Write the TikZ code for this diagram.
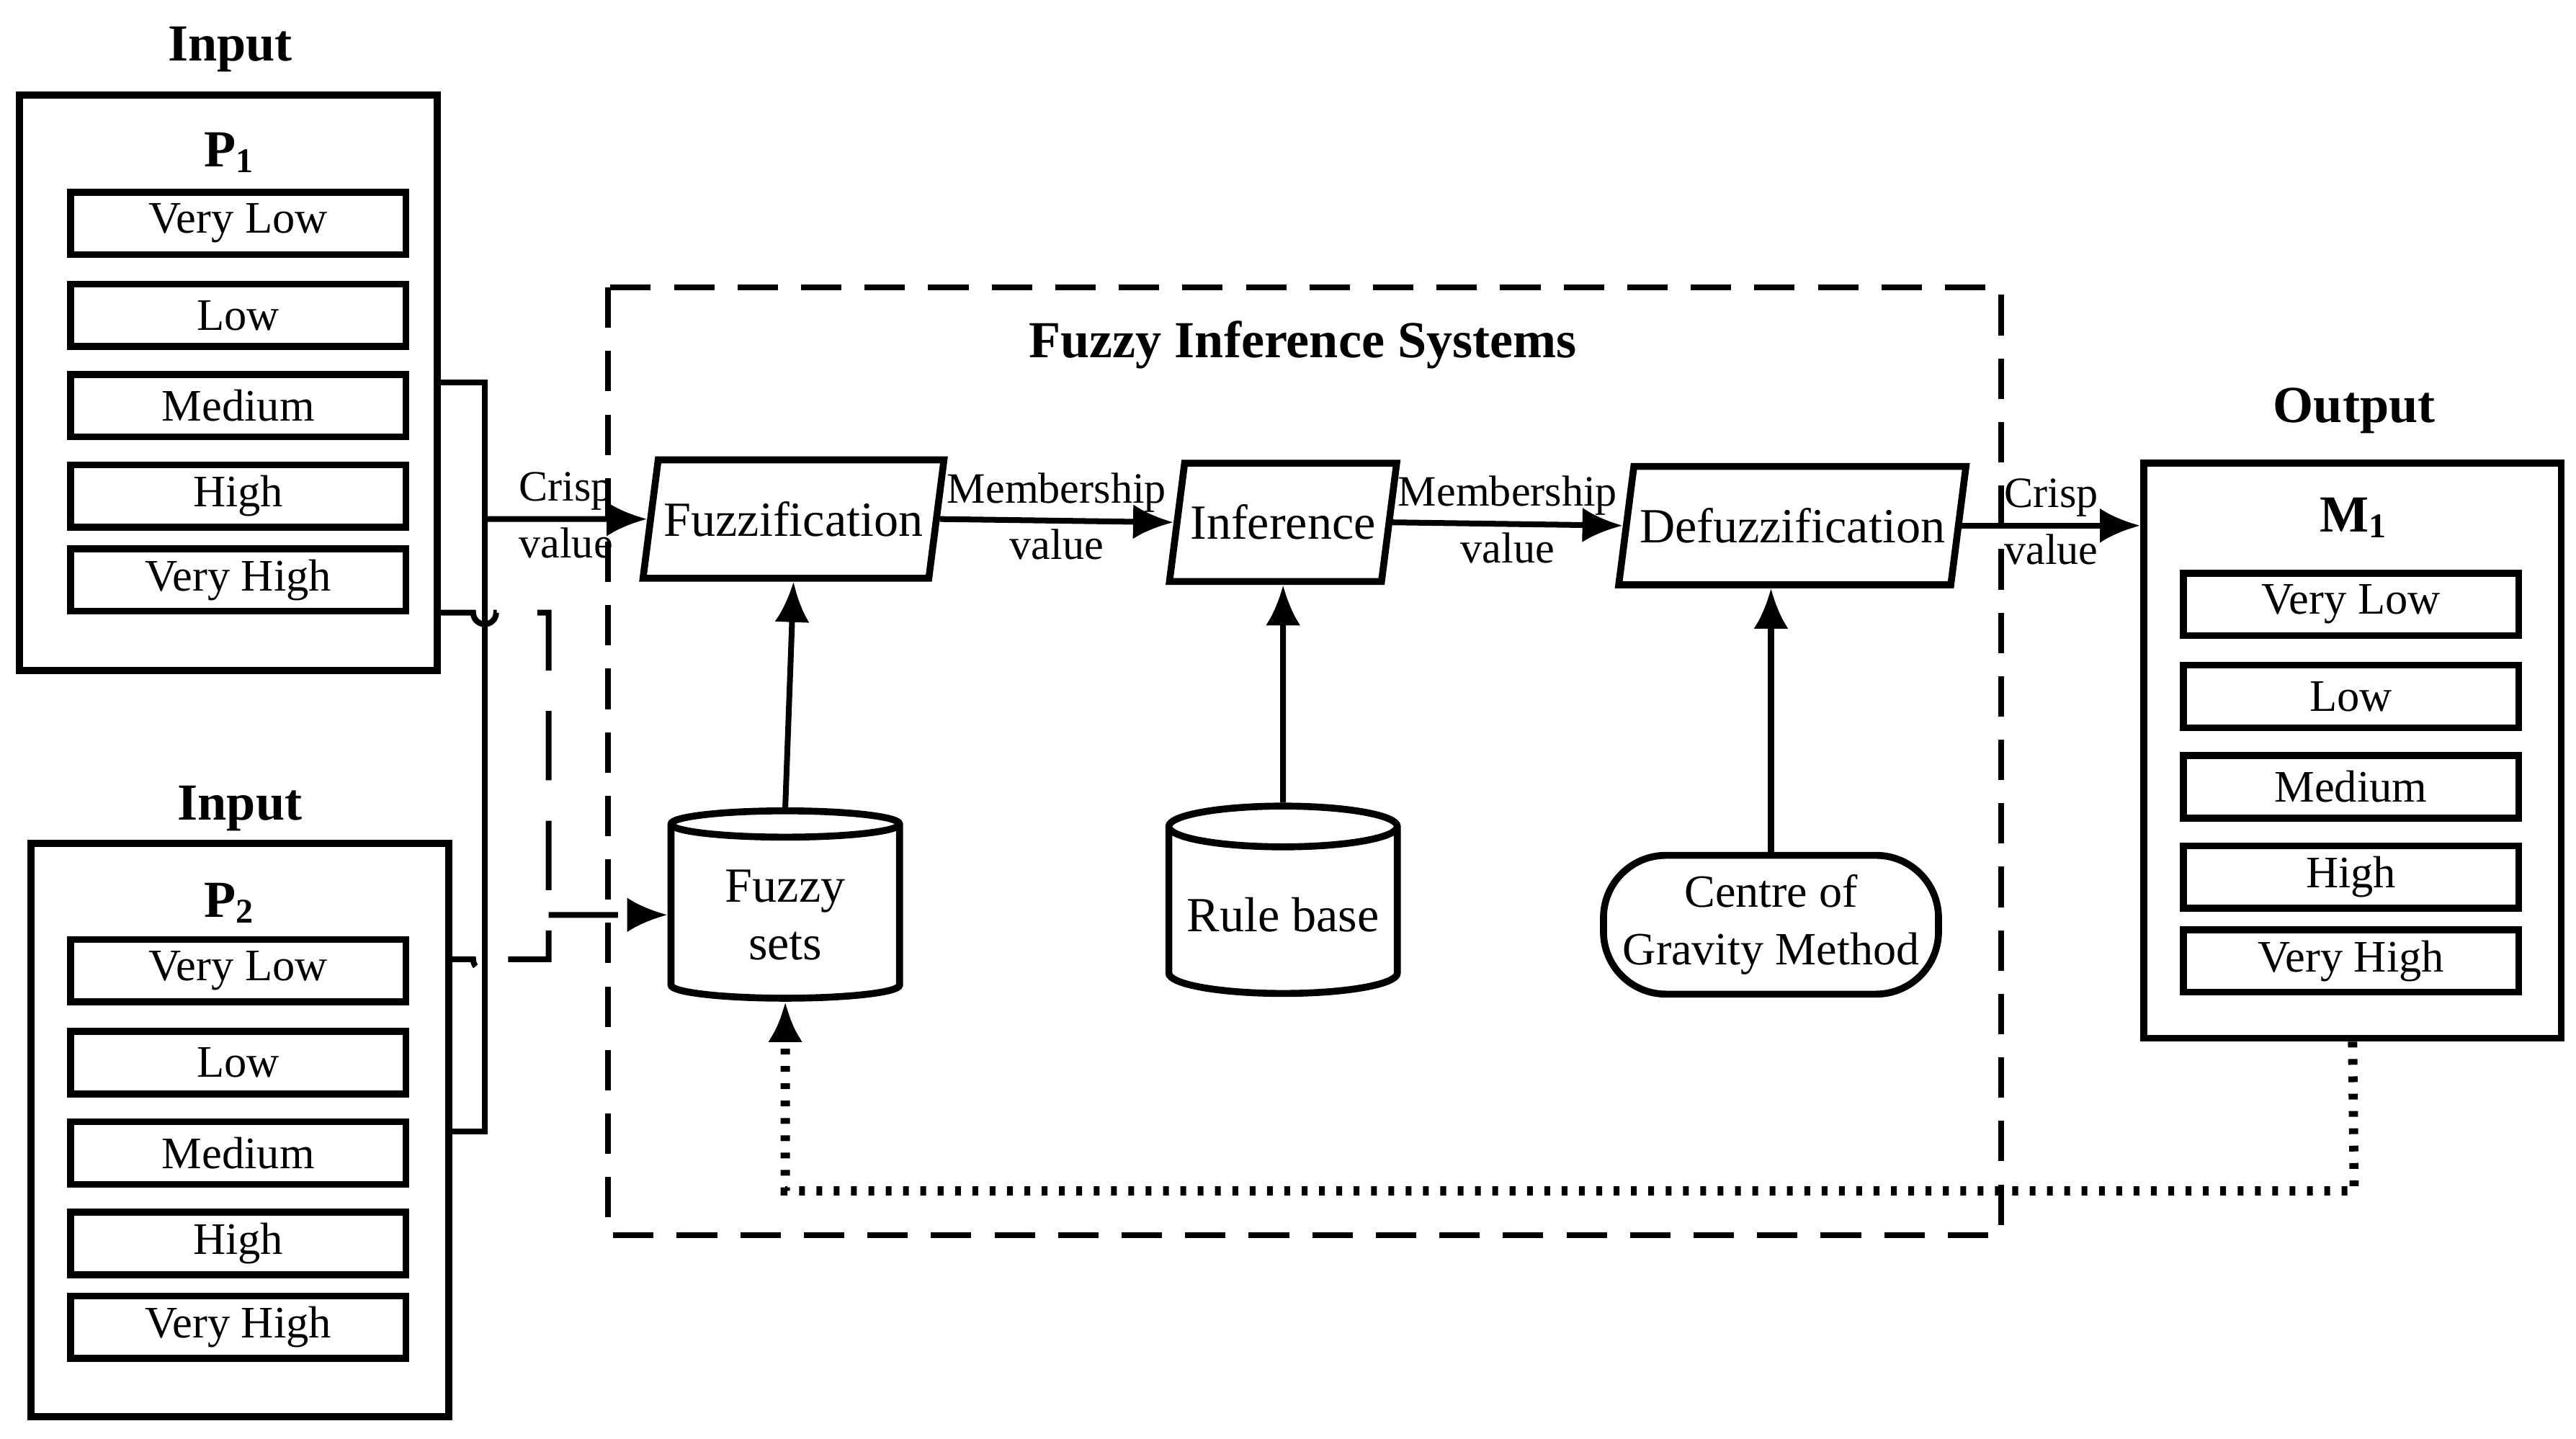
\documentclass[tikz,border=0pt]{standalone}
\usepackage{fontspec}
\setmainfont{Liberation Serif}
\usetikzlibrary{shapes.geometric, arrows.meta, positioning}
\tikzset{
  item/.style = {rectangle, draw, line width=1.2pt, minimum width=2.04cm, minimum height=0.38cm, inner sep=0pt, font=\fontsize{7.8}{9}\selectfont},
  panel/.style = {rectangle, draw, line width=1.2pt, inner sep=0pt},
  title/.style = {font=\fontsize{9}{11}\selectfont\bfseries},
  process/.style = {trapezium, trapezium stretches=true, trapezium left angle=72, trapezium right angle=108, draw, line width=1.2pt, inner sep=1pt, minimum height=0.72cm, font=\fontsize{8.5}{10}\selectfont},
  store/.style = {cylinder, shape border rotate=90, aspect=0.2, draw, line width=1.2pt, minimum width=1.39cm, minimum height=1.14cm, inner sep=1pt, align=center, font=\fontsize{8.5}{10}\selectfont},
  lab/.style = {font=\fontsize{7.5}{8}\selectfont, align=center, inner sep=1pt},
  connector/.style = {draw, line width=1pt, -{Latex[length=7pt,width=6pt]}}
}
\begin{document}
\begin{tikzpicture}[x=0.01cm, y=-0.01cm]
    \useasboundingbox (0,0) rectangle (1568,876);
    % Input panels
    \node [panel, minimum width=2.54cm, minimum height=3.50cm] (p1box) at (139,233) {};
    \node [panel, minimum width=2.54cm, minimum height=3.49cm] (p2box) at (146,688) {};
    \node [title] at (140,30) {Input};
    \node [title] at (146,492) {Input};
    \node [title] at (140,93) {P\textsubscript{1}};
    \node [title] at (140,550) {P\textsubscript{2}};
    \foreach \t/\y [count=\i] in {Very Low/136, Low/192, Medium/247, High/302, Very High/353}
        \node [item] (pa\i) at (145,\y) {\t};
    \foreach \t/\y [count=\i] in {Very Low/591, Low/647, Medium/702, High/757, Very High/808}
        \node [item] (pb\i) at (145,\y) {\t};

    % Output panel
    \node [panel, minimum width=2.54cm, minimum height=3.50cm] (m1box) at (1432,457) {};
    \node [title] at (1433,250) {Output};
    \node [title] at (1433,315) {M\textsubscript{1}};
    \foreach \t/\y [count=\i] in {Very Low/368, Low/424, Medium/479, High/534, Very High/585}
        \node [item] (mc\i) at (1431,\y) {\t};

    % Fuzzy inference system
    \draw [line width=1pt, dash pattern=on 7pt off 4pt] (370,175) rectangle (1218,752);
    \node [title] at (793,210) {Fuzzy Inference Systems};
    \node [process, minimum width=1.70cm] (fuzz) at (483,316) {Fuzzification};
    \node [process, minimum width=1.38cm] (infer) at (781,318) {Inference};
    \node [process, minimum width=2.02cm] (defuzz) at (1091,320) {Defuzzification};
    \node [store] (sets) at (478,557) {Fuzzy\\sets};
    \node [store] (rules) at (781,557) {Rule base};
    \node [rectangle, rounded corners=0.38cm, draw, line width=1.2pt, minimum width=2.03cm, minimum height=0.77cm, align=center, font=\fontsize{8}{10}\selectfont] (cog) at (1078,563) {Centre of\\Gravity Method};

    % Arrows
    \coordinate (bus) at (295,316);
    \draw [line width=1pt] (p1box.east |- 0,233) -- (295,233) -- (295,689) -- (p2box.east |- 0,689);
    \path [connector] (bus) -- node[lab, above] {Crisp} node[lab, below] {value} (fuzz.west);
    \path [connector] (fuzz.east) -- node[lab, above] {Membership} node[lab, below] {value} (infer.west);
    \path [connector] (infer.east) -- node[lab, above] {Membership} node[lab, below] {value} (defuzz.west);
    \path [connector] (defuzz.east) -- node[lab, above] {Crisp} node[lab, below] {value} (defuzz.east -| m1box.west);
    \path [connector] (sets.top) -- (fuzz.south);
    \path [connector] (rules.top) -- (infer.south);
    \path [connector] (cog.north) -- (cog.north |- defuzz.south);

    % Dashed feed to fuzzy sets
    \coordinate (join) at (334,557);
    \draw [line width=1pt, dash pattern=on 12pt off 7pt] (p1box.east |- 0,373) -- (288,373) arc (180:0:7) -- (334,373) -- (334,584) -- (302,584) arc (0:180:7) -- (p2box.east |- 0,584);
    \path [connector, dash pattern=on 12pt off 7pt] (join) -- (sets.west);

    % Dotted feedback
    \path [connector, dotted, line width=1.6pt] (m1box.south) -- (1433,725) -| (sets.bottom);
\end{tikzpicture}
\end{document}
